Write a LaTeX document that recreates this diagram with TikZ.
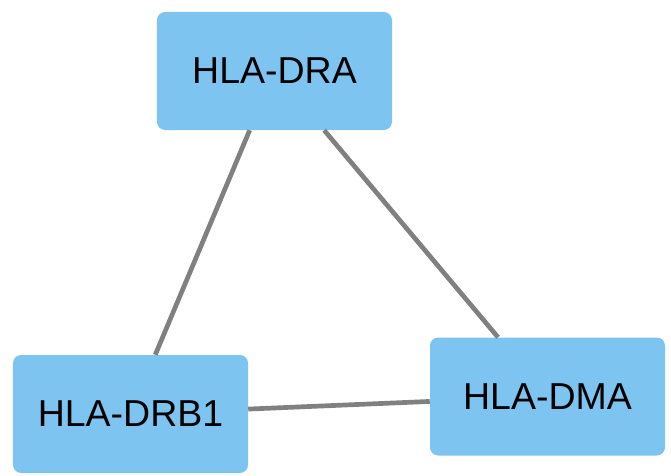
\documentclass[tikz,border=0pt]{standalone}
\usepackage{fontspec}
\setmainfont{Liberation Sans}
\usepackage{xcolor}
\usepackage{tikz}
\usetikzlibrary{positioning, calc}
\definecolor{genefill}{RGB}{125,196,240}
\definecolor{edgegray}{RGB}{128,128,128}
\tikzset{% styles for the gene network
	gene/.style={shape=rectangle, rounded corners=7pt, fill=genefill, draw=none,
		minimum width=7.05cm, minimum height=3.54cm, text=black,
		font=\fontsize{32}{36}\selectfont},
	grayline/.style={edgegray, line width=4pt},
}
\begin{document}
\begin{tikzpicture}[x=0.03cm, y=-0.03cm]
	\useasboundingbox (0,0) rectangle (671,475);
	\node[gene] (dra) at (274.5,71) {HLA-DRA};
	\node[gene] (drb) at (130.5,414) {HLA-DRB1};
	\node[gene] (dma) at (547.5,396.5) {HLA-DMA};
	
	\draw[grayline] (dra) -- (drb);
	\draw[grayline] (dra) -- (dma);
	\draw[grayline] (drb) -- (dma);
\end{tikzpicture}
\end{document}
